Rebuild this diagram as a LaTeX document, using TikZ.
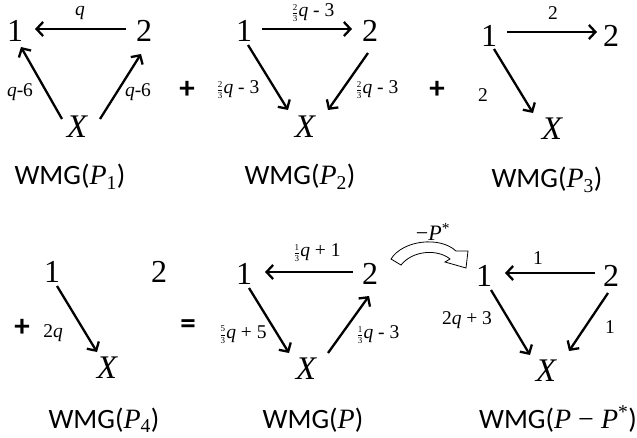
\documentclass[tikz,border=0pt]{standalone}
\usepackage{amsmath}
\usepackage{fontspec}
\setmainfont{Liberation Serif}
\newfontfamily\carlito{Carlito}
\newfontfamily\serif{Liberation Serif}
\usetikzlibrary{arrows.meta,calc}
\newcommand\fr[2]{{\fontsize{9}{9}\selectfont\raisebox{0.25ex}{$\genfrac{}{}{0.3pt}{0}{\text{#1}}{\text{#2}}$}}}
\newcommand\iq{\textit{q}}
\newcommand\sP{{\serif\itshape P}}
\newcommand\wsub[1]{\textsubscript{\serif #1}}
\begin{document}
\begin{tikzpicture}[x=1pt,y=-1pt,
  vlab/.style={font=\fontsize{32}{32}\selectfont, inner sep=0pt},
  xlab/.style={font=\fontsize{33}{33}\selectfont\itshape, inner sep=0pt},
  elab/.style={font=\fontsize{19.5}{19.5}\selectfont, inner sep=0pt},
  wmg/.style={font=\fontsize{28}{28}\selectfont\carlito, anchor=base, inner sep=0pt},
  oper/.style={font=\fontsize{31}{31}\selectfont\carlito\bfseries, inner sep=0pt},
  arr/.style={line width=2.3pt, -{Straight Barb[length=6.5pt,width=14pt]}},
  blockarr/.style={draw=black, line width=0.8pt, fill=white, line join=miter}]
\useasboundingbox (0,0) rectangle (637,438);

% ---------- Panel 1 ----------
\node[vlab] (a1) at (15,31) {1};
\node[vlab] (a2) at (144,31) {2};
\node[xlab] (ax) at (77,127) {X};
\draw[arr] ($(a2)+(-18,-2)$) -- ($(a1)+(20,-2)$);
\draw[arr] ($(ax)+(-15,-8)$) -- ($(a1)+(6,16)$);
\draw[arr] ($(ax)+(23,-8)$) -- ($(a2)+(-3,23)$);
\node[elab] (al1) at (80,13) {\iq};
\node[elab] (al2) at (20,92) {\iq-6};
\node[elab] (al3) at (138,92) {\iq-6};
\node[wmg] (aw) at (70,185) {WMG(\sP\wsub{1})};
\node[oper] (plus1) at (187,90) {+};

% ---------- Panel 2 ----------
\node[vlab] (b1) at (244,31) {1};
\node[vlab] (b2) at (370,31) {2};
\node[xlab] (bx) at (305,127) {X};
\draw[arr] ($(b1)+(18,-2)$) -- ($(b2)+(-18,-2)$);
\draw[arr] ($(b1)+(4,14)$) -- ($(bx)+(-17,-17)$);
\draw[arr] ($(b2)+(-2,22)$) -- ($(bx)+(23,-17)$);
\node[elab] (bl1) at (313,13) {\fr{2}{3}\iq{} - 3};
\node[elab] (bl2) at (238,90) {\fr{2}{3}\iq{} - 3};
\node[elab] (bl3) at (377,90) {\fr{2}{3}\iq{} - 3};
\node[wmg] (bw) at (300,185) {WMG(\sP\wsub{2})};
\node[oper] (plus2) at (437,90) {+};

% ---------- Panel 3 ----------
\node[vlab] (c1) at (489,36) {1};
\node[vlab] (c2) at (611,36) {2};
\node[xlab] (cx) at (552,129) {X};
\draw[arr] ($(c1)+(18,-4)$) -- ($(c2)+(-14,-4)$);
\draw[arr] ($(c1)+(5,13)$) -- ($(cx)+(-19,-16)$);
\node[elab] (cl1) at (553,13) {2};
\node[elab] (cl2) at (483,95) {2};
\node[wmg] (cw) at (547,188) {WMG(\sP\wsub{3})};

% ---------- Panel 4 ----------
\node[vlab] (d1) at (52,272) {1};
\node[vlab] (d2) at (159,272) {2};
\node[xlab] (dx) at (107,368) {X};
\draw[arr] ($(d1)+(5,14)$) -- ($(dx)+(-10,-16)$);
\node[elab] (dl1) at (53,333) {2\iq};
\node[oper] (plus3) at (22,328) {+};
\node[wmg] (dw) at (104,428) {WMG(\sP\wsub{4})};
\node[oper] (eq) at (188,327) {=};

% ---------- Panel P ----------
\node[vlab] (e1) at (244,274) {1};
\node[vlab] (e2) at (370,274) {2};
\node[xlab] (ex) at (306,369) {X};
\draw[arr] ($(e2)+(-17,-2)$) -- ($(e1)+(21,-2)$);
\draw[arr] ($(e1)+(5,14)$) -- ($(ex)+(-17,-16)$);
\draw[arr] ($(ex)+(22,-16)$) -- ($(e2)+(-1,22)$);
\node[elab] (el1) at (317,253) {\fr{1}{3}\iq{} + 1};
\node[elab] (el2) at (243,335) {\fr{5}{3}\iq{} + 5};
\node[elab] (el3) at (378,335) {\fr{1}{3}\iq{} - 3};
\node[wmg] (ew) at (313,428) {WMG(\sP)};

% ---------- curved block arrow ----------
\draw[blockarr] (391,259) -- (401,265)
  .. controls (413,250) and (438,249) .. (450,259)
  -- (445,262) -- (466,268) -- (468,251) -- (456,251)
  .. controls (440,236) and (403,240) .. (391,259) -- cycle;
\node[font=\fontsize{22}{22}\selectfont, inner sep=0pt] (pstar) at (433,232) {−\textit{P}\textsuperscript{*}};

% ---------- Panel P - P* ----------
\node[vlab] (f1) at (484,276) {1};
\node[vlab] (f2) at (611,276) {2};
\node[xlab] (fx) at (546,371) {X};
\draw[arr] ($(f2)+(-16,-3)$) -- ($(f1)+(21,-3)$);
\draw[arr] ($(f1)+(7,14)$) -- ($(fx)+(-16,-16)$);
\draw[arr] ($(f2)+(-3,17)$) -- ($(fx)+(23,-20)$);
\node[elab] (fl1) at (538,258) {1};
\node[elab] (fl2) at (467,320) {2\iq{} + 3};
\node[elab] (fl3) at (610,327) {1};
\node[wmg] (fw) at (558,428) {WMG(\sP{\serif\ −\ }\sP\textsuperscript{\serif *})};
\end{tikzpicture}
\end{document}
